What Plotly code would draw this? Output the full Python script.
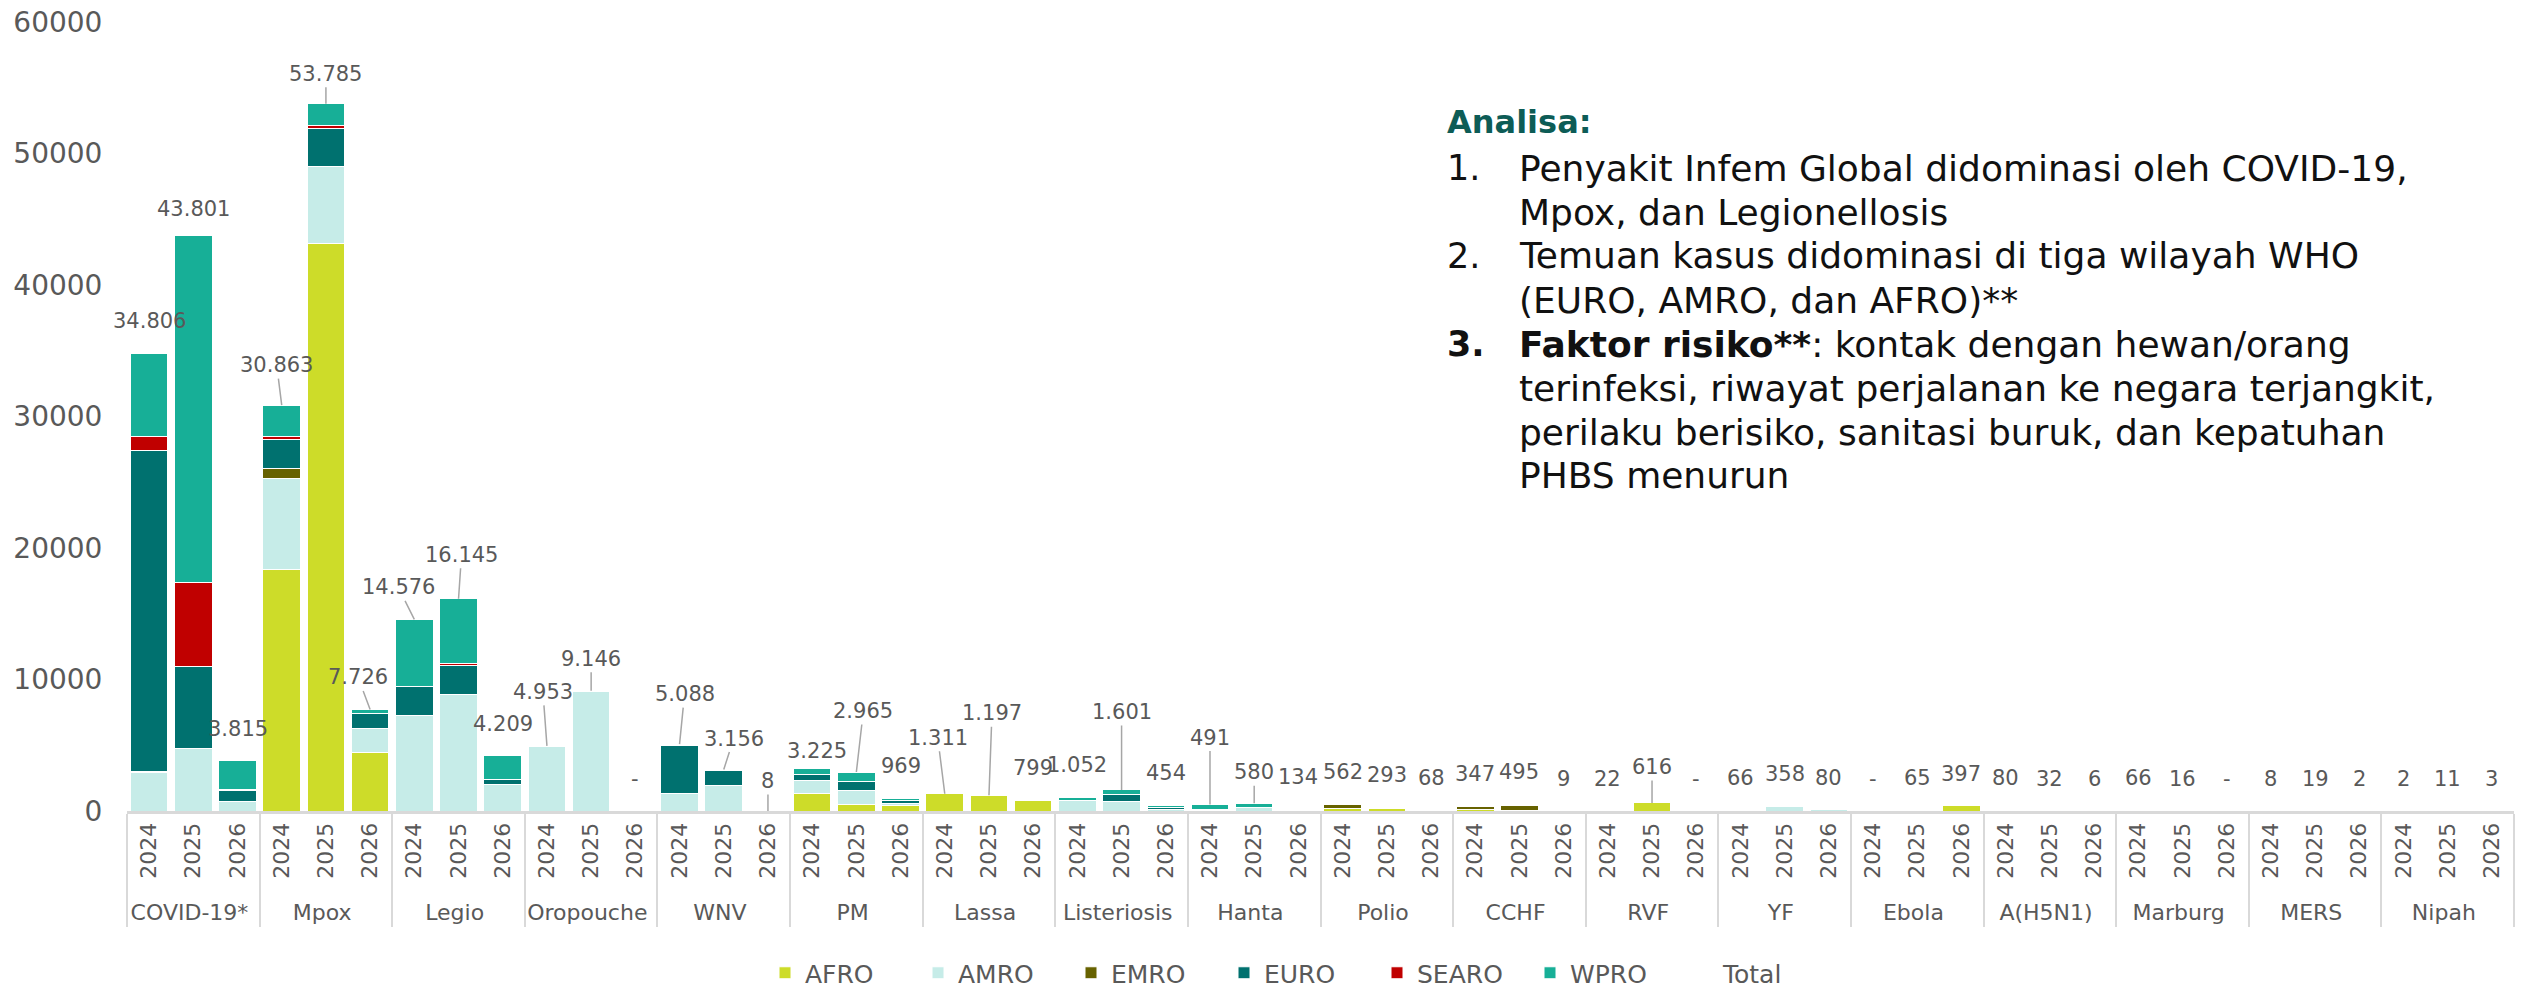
import plotly.graph_objects as go

# ---------------- data ----------------
DISEASES = ["COVID-19*", "Mpox", "Legio", "Oropouche", "WNV", "PM", "Lassa",
            "Listeriosis", "Hanta", "Polio", "CCHF", "RVF", "YF", "Ebola",
            "A(H5N1)", "Marburg", "MERS", "Nipah"]
YEARS = ["2024", "2025", "2026"]
REGIONS = ["AFRO", "AMRO", "EMRO", "EURO", "SEARO", "WPRO"]

AFRO = [0, 0, 0, 18370, 43160, 4460, 0, 0, 0, 0, 0, 0, 0, 0, 0,
        1330, 510, 420, 1300, 1197, 799, 0, 0, 0, 0, 0, 0,
        220, 220, 40, 80, 60, 0, 22, 616, 0, 30, 0, 0, 0, 65, 397,
        0, 0, 0, 66, 16, 0, 0, 0, 0, 0, 0, 0]
AMRO = [2930, 4720, 760, 6930, 5880, 1790, 7270, 8880, 2040, 4870, 9050, 0,
        1350, 1960, 8, 1020, 1020, 180, 11, 0, 0, 770, 714, 100, 50, 250, 60,
        0, 0, 0, 0, 0, 0, 0, 0, 0, 36, 358, 80, 0, 0, 0,
        66, 5, 0, 0, 0, 0, 0, 0, 0, 0, 0, 0]
EMRO = [100, 0, 0, 750, 0, 0, 0, 0, 0, 0, 0, 0, 0, 0, 0,
        0, 0, 0, 0, 0, 0, 0, 0, 0, 0, 0, 0,
        292, 40, 28, 230, 330, 9, 0, 0, 0, 0, 0, 0, 0, 0, 0,
        0, 0, 0, 0, 0, 0, 8, 19, 2, 0, 0, 0]
EURO = [24410, 6300, 780, 2200, 2860, 1150, 2170, 2220, 380, 83, 96, 0,
        3650, 1130, 0, 450, 690, 170, 0, 0, 0, 0, 570, 200, 30, 0, 0,
        0, 0, 0, 37, 0, 0, 0, 0, 0, 0, 0, 0, 0, 0, 0,
        0, 0, 0, 0, 0, 0, 0, 0, 0, 0, 0, 0]
SEARO = [1060, 6330, 100, 250, 250, 0, 0, 150, 0, 0, 0, 0, 0, 0, 0,
         0, 0, 0, 0, 0, 0, 0, 0, 0, 0, 0, 0,
         50, 0, 0, 0, 105, 0, 0, 0, 0, 0, 0, 0, 0, 0, 0,
         0, 0, 0, 0, 0, 0, 0, 0, 0, 2, 11, 3]
WPRO = [6306, 26451, 2175, 2363, 1635, 326, 5136, 4895, 1789, 0, 0, 0,
        88, 66, 0, 425, 745, 199, 0, 0, 0, 282, 317, 154, 411, 330, 74,
        0, 33, 0, 0, 0, 0, 0, 0, 0, 0, 0, 0, 0, 0, 0,
        14, 27, 6, 0, 0, 0, 0, 0, 0, 0, 0, 0]
TOTAL = [34806, 43801, 3815, 30863, 53785, 7726, 14576, 16145, 4209,
         4953, 9146, 0, 5088, 3156, 8, 3225, 2965, 969, 1311, 1197, 799,
         1052, 1601, 454, 491, 580, 134, 562, 293, 68, 347, 495, 9,
         22, 616, 0, 66, 358, 80, 0, 65, 397, 80, 32, 6, 66, 16, 0,
         8, 19, 2, 2, 11, 3]

NOTES = [
    ("1.", "Penyakit Infem Global didominasi oleh COVID-19,"),
    ("", "Mpox, dan Legionellosis"),
    ("2.", "Temuan kasus didominasi di tiga wilayah WHO"),
    ("", "(EURO, AMRO, dan AFRO)**"),
    ("<b>3.</b>", "<b>Faktor risiko**</b>: kontak dengan hewan/orang"),
    ("", "terinfeksi, riwayat perjalanan ke negara terjangkit,"),
    ("", "perilaku berisiko, sanitasi buruk, dan kepatuhan"),
    ("", "PHBS menurun"),
]

# ---------------- style ----------------
COLORS = ["#CDDC29", "#C6ECE8", "#676200", "#00716F", "#C00000", "#17AF97"]
FONT = "DejaVu Sans"
GREY = "#595959"
W, H = 2526, 1000          # browser window
OFF = 8                    # default page body margin
FW, FH = W - 2 * OFF, H - 2 * OFF
L, R, T, B = 127, 2514, 22, 811   # plot area in window pixels

# label placement styles: index -> (dy px above bar top, dx px, leader line)
LABEL_STYLE = {
    1: (26, 0, False), 3: (40, -5, True), 4: (30, 0, True), 5: (32, -12, True),
    6: (32, -16, True), 7: (44, 3, True), 9: (54, -4, True), 10: (32, 0, True),
    12: (50, 5, True), 13: (31, 10, True), 14: (30, 0, True), 15: (18, 5, False),
    16: (61, 7, True), 18: (56, -7, True), 19: (82, 3, True), 22: (78, 0, True),
    24: (67, 0, True), 25: (31, 0, True), 34: (36, 0, True),
}


def px_x(px):
    return (px - L) / (R - L)


def px_y(py):
    return (B - py) / (B - T)


x_cat = [d for d in DISEASES for _ in YEARS]
x_year = [y for _ in DISEASES for y in YEARS]
idx = list(range(len(x_cat)))

fig = go.Figure()
for name, vals, color in zip(REGIONS, [AFRO, AMRO, EMRO, EURO, SEARO, WPRO], COLORS):
    fig.add_trace(go.Bar(
        x=[x_cat, x_year], y=vals, name=name,
        marker=dict(color=color, line=dict(color="white", width=1)),
    ))

fig.add_trace(go.Scatter(
    x=idx, y=TOTAL, xaxis="x2", yaxis="y", mode="markers", name="Total",
    marker=dict(color="rgba(0,0,0,0)", size=1),
))

for i, t in enumerate(TOTAL):
    txt = f"{t:,}".replace(",", ".") if t else "-"
    dy, dx, lead = LABEL_STYLE.get(i, (32, 0, False))
    fig.add_annotation(
        x=i, y=t, xref="x2", yref="y", text=txt, showarrow=True,
        arrowhead=0, arrowwidth=1.5, standoff=0,
        arrowcolor="#A6A6A6" if lead else "rgba(0,0,0,0)",
        ax=dx, ay=-dy, font=dict(family=FONT, size=21, color=GREY),
    )

# analysis text
fig.add_annotation(
    x=px_x(1445), y=px_y(122), xref="paper", yref="paper", xanchor="left",
    yanchor="middle", showarrow=False, text="<b>Analisa:</b>",
    font=dict(family=FONT, size=32, color="#0D5C56"),
)
line_y = [168, 212, 256, 300, 344, 388, 432, 476]
for (num, body), yy in zip(NOTES, line_y):
    if num:
        fig.add_annotation(
            x=px_x(1445), y=px_y(yy), xref="paper", yref="paper",
            xanchor="left", yanchor="middle", showarrow=False, text=num,
            font=dict(family=FONT, size=35, color="#111111"),
        )
    fig.add_annotation(
        x=px_x(1517), y=px_y(yy), xref="paper", yref="paper",
        xanchor="left", yanchor="middle", showarrow=False, text=body,
        font=dict(family=FONT, size=36, color="#111111"),
    )

fig.update_layout(
    width=FW, height=FH,
    margin=dict(l=L - OFF, r=(OFF + FW) - R, t=T - OFF, b=(OFF + FH) - B,
                autoexpand=False),
    barmode="stack", bargap=0.15,
    plot_bgcolor="white", paper_bgcolor="white",
    font=dict(family=FONT, color=GREY),
    showlegend=True,
    legend=dict(
        orientation="h", x=px_x(765), y=px_y(973), xanchor="left",
        yanchor="middle", font=dict(family=FONT, size=25, color=GREY),
        traceorder="normal", itemwidth=30,
        entrywidth=108, entrywidthmode="pixels",
    ),
    xaxis=dict(
        type="multicategory", range=[-0.5, len(idx) - 0.5], automargin=False,
        tickangle=-90, tickfont=dict(family=FONT, size=22, color=GREY),
        ticks="outside", ticklen=30, tickcolor="rgba(0,0,0,0)",
        showline=True, linecolor="#D9D9D9", linewidth=3,
        showdividers=True, dividercolor="#D9D9D9", dividerwidth=2,
        showgrid=False, zeroline=False,
    ),
    xaxis2=dict(
        overlaying="x", range=[-0.5, len(idx) - 0.5], showticklabels=False,
        showgrid=False, zeroline=False, showline=False, automargin=False,
    ),
    yaxis=dict(
        range=[0, 60000], dtick=10000, tickformat="d", showgrid=False,
        zeroline=False, showline=False, automargin=False,
        ticks="outside", ticklen=18, tickcolor="rgba(0,0,0,0)",
        ticklabeloverflow="allow",
        tickfont=dict(family=FONT, size=28, color=GREY),
    ),
)

fig.write_html("out.html")
